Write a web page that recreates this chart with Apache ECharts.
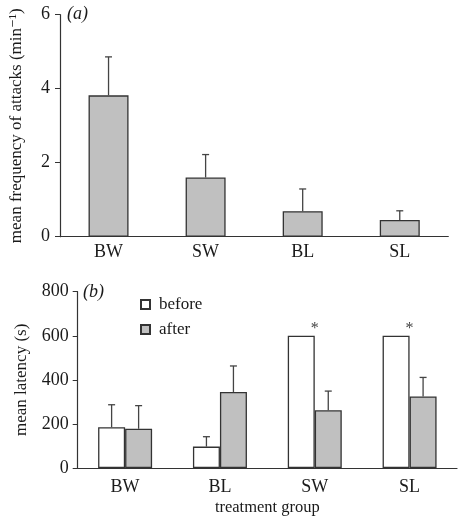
<!DOCTYPE html>
<html><head><meta charset="utf-8">
<script src="https://cdn.jsdelivr.net/npm/echarts@6/dist/echarts.min.js"></script>
<style>html,body{margin:0;padding:0;background:#fff}#c{width:458px;height:520px}</style>
</head><body><div id="c"></div>
<script>
// ---- data ----
const catsA = ['BW', 'SW', 'BL', 'SL'];
const attackMean = [3.82, 1.60, 0.69, 0.45];
const attackErrTop = [4.86, 2.22, 1.29, 0.70];
const yTicksA = [0, 2, 4, 6];

const catsB = ['BW', 'BL', 'SW', 'SL'];
const beforeMean = [185, 97, 600, 600];
const beforeErrTop = [287, 142, null, null];
const afterMean = [178, 345, 262, 325];
const afterErrTop = [283, 463, 349, 411];
const signif = ['', '', '*', '*'];
const yTicksB = [0, 200, 400, 600, 800];

const FONT = '"Liberation Serif", "DejaVu Serif", serif';
const AX = '#333';
const GRAY = '#c0c0c0';
const TXT = '#1a1a1a';

function errSeries(xi, yi, means, tops, offset) {
  const data = means.map((m, i) => [i, m, tops[i]]).filter(d => d[2] != null);
  return {
    type: 'custom', xAxisIndex: xi, yAxisIndex: yi, z: 5,
    data: data, encode: { x: 0, y: [1, 2] },
    renderItem: function (params, api) {
      const c = api.value(0), m = api.value(1), t = api.value(2);
      const p0 = api.coord([c, m]);
      const p1 = api.coord([c, t]);
      const x = p0[0] + offset;
      return { type: 'group', children: [
        { type: 'line', shape: { x1: x, y1: p0[1], x2: x, y2: p1[1] }, style: { stroke: '#444', lineWidth: 1.3 } },
        { type: 'line', shape: { x1: x - 3.5, y1: p1[1], x2: x + 3.5, y2: p1[1] }, style: { stroke: '#444', lineWidth: 1.3 } }
      ]};
    }
  };
}

const axisLabel = { color: TXT, fontFamily: FONT, fontSize: 18 };

const option = {
  animation: false,
  textStyle: { fontFamily: FONT },
  grid: [
    { left: 58.7, right: 9.7, top: 14.7, bottom: 283.3 },
    { left: 77.7, right: 1, top: 291.7, bottom: 52 }
  ],
  xAxis: [
    { type: 'category', gridIndex: 0, data: catsA,
      axisLine: { lineStyle: { color: AX, width: 1.2 } },
      axisTick: { length: 5, lineStyle: { color: AX } },
      axisLabel: Object.assign({ margin: 7 }, axisLabel) },
    { type: 'category', gridIndex: 1, data: catsB,
      name: 'treatment group', nameLocation: 'middle', nameGap: 31,
      nameTextStyle: { color: TXT, fontFamily: FONT, fontSize: 16.5 },
      axisLine: { lineStyle: { color: AX, width: 1.2 } },
      axisTick: { length: 5, lineStyle: { color: AX } },
      axisLabel: Object.assign({ margin: 10 }, axisLabel) }
  ],
  yAxis: [
    { type: 'value', gridIndex: 0, min: yTicksA[0], max: yTicksA[yTicksA.length - 1], interval: 2,
      name: 'mean frequency of attacks (min\u207B\u00B9)', nameLocation: 'middle', nameGap: 35,
      nameTextStyle: { color: TXT, fontFamily: FONT, fontSize: 17 },
      splitLine: { show: false },
      axisLine: { show: true, lineStyle: { color: AX, width: 1.2 } },
      axisTick: { show: true, length: 5, lineStyle: { color: AX } },
      axisLabel: Object.assign({ margin: 10 }, axisLabel) },
    { type: 'value', gridIndex: 1, min: yTicksB[0], max: yTicksB[yTicksB.length - 1], interval: 200,
      name: 'mean latency (s)', nameLocation: 'middle', nameGap: 48,
      nameTextStyle: { color: TXT, fontFamily: FONT, fontSize: 17 },
      splitLine: { show: false },
      axisLine: { show: true, lineStyle: { color: AX, width: 1.2 } },
      axisTick: { show: true, length: 5, lineStyle: { color: AX } },
      axisLabel: Object.assign({ margin: 9 }, axisLabel) }
  ],
  legend: {
    orient: 'vertical', left: 140, top: 296, itemGap: 8, padding: 0,
    itemWidth: 9, itemHeight: 9, icon: 'rect',
    textStyle: { color: TXT, fontFamily: FONT, fontSize: 17, padding: [0, 0, 0, 4] },
    data: ['before', 'after']
  },
  graphic: [
    { type: 'text', left: 67, top: 5, style: { text: '(a)', font: 'italic 18px ' + FONT, fill: TXT } },
    { type: 'text', left: 83, top: 283, style: { text: '(b)', font: 'italic 18px ' + FONT, fill: TXT } }
  ],
  series: [
    { type: 'bar', xAxisIndex: 0, yAxisIndex: 0, data: attackMean, barWidth: 40,
      itemStyle: { color: GRAY, borderColor: '#333', borderWidth: 1.3 } },
    errSeries(0, 0, attackMean, attackErrTop, 0),
    { type: 'bar', name: 'before', xAxisIndex: 1, yAxisIndex: 1, data: beforeMean, barWidth: 27, barGap: '0%',
      itemStyle: { color: '#fff', borderColor: '#333', borderWidth: 1.3 } },
    { type: 'bar', name: 'after', xAxisIndex: 1, yAxisIndex: 1, data: afterMean, barWidth: 27, barGap: '0%',
      itemStyle: { color: GRAY, borderColor: '#333', borderWidth: 1.3 } },
    errSeries(1, 1, beforeMean, beforeErrTop, -13.5),
    errSeries(1, 1, afterMean, afterErrTop, 13.5),
    { type: 'custom', xAxisIndex: 1, yAxisIndex: 1, z: 6,
      data: beforeMean.map((m, i) => [i, m, signif[i]]).filter(d => d[2]),
      encode: { x: 0, y: 1 },
      renderItem: function (params, api) {
        const p = api.coord([api.value(0), api.value(1)]);
        return { type: 'text', x: p[0], y: p[1] + 1,
          style: { text: signif[api.value(0)], font: '16px ' + FONT, fill: '#444', align: 'center', verticalAlign: 'bottom' } };
      }
    }
  ]
};
const chart = echarts.init(document.getElementById('c'), null, { renderer: 'canvas' });
chart.setOption(option);
</script></body></html>
